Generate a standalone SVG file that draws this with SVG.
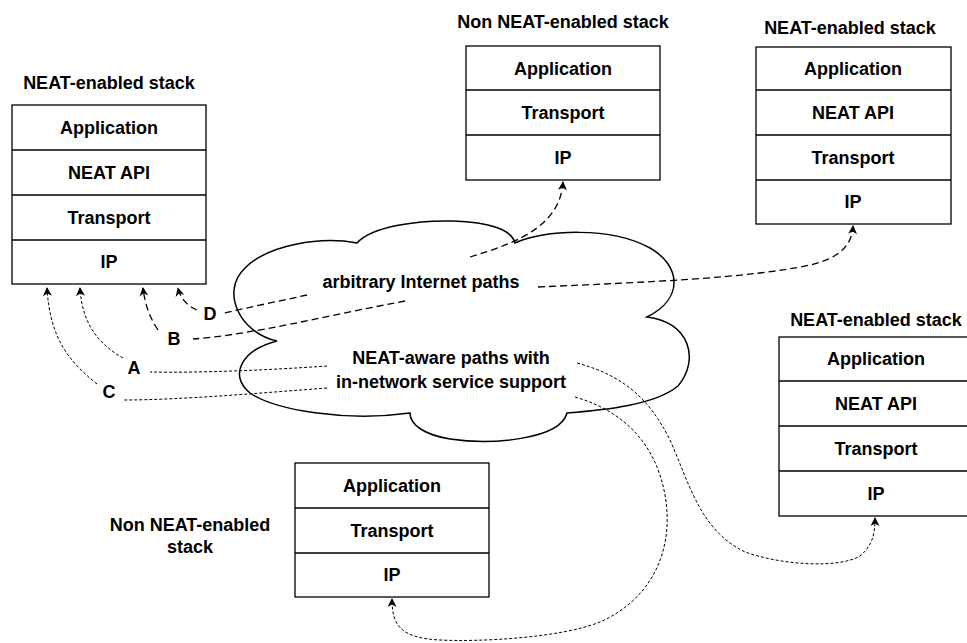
<svg xmlns="http://www.w3.org/2000/svg" width="967" height="643" viewBox="0 0 967 643">
<style>
  .t { font-family: "Liberation Sans", Arial, Helvetica, sans-serif; font-weight: bold; font-size: 18px; fill: #000; text-anchor: middle; }
  .box { fill: #fff; stroke: #000; stroke-width: 1.3; }
  .sep { stroke: #000; stroke-width: 1.3; }
  .cloud { fill: #fff; stroke: #000; stroke-width: 1.5; }
  .coarse { fill: none; stroke: #000; stroke-width: 1.3; stroke-dasharray: 7 4; }
  .fine { fill: none; stroke: #000; stroke-width: 1; stroke-dasharray: 3 2; }
</style>
<defs>
  <marker id="arr" viewBox="0 0 10 10" markerUnits="userSpaceOnUse" markerWidth="10" markerHeight="9" refX="9" refY="5" orient="auto">
    <path d="M0,0 L10,5 L0,10 L3,5 z" fill="#000"/>
  </marker>
</defs>

<g id="cloud">
  <path class="cloud" d="M 277,341 C 240,333 220,292 245,268 C 268,245 320,236 357,243 C 372,226 420,220 453,221 C 490,222 512,230 515,243 C 545,230 610,226 650,248 C 680,265 685,298 647,317 C 690,322 700,360 678,386 C 655,405 605,410 567,413 C 560,440 490,445 450,439 C 425,435 410,425 410,413 C 345,422 275,410 250,393 C 228,375 242,350 277,341 Z"/>
  <text class="t" x="421" y="288">arbitrary Internet paths</text>
  <text class="t" x="451" y="364">NEAT-aware paths with</text>
  <text class="t" x="451" y="388">in-network service support</text>
</g>

<g id="stack-left">
  <text class="t" x="109" y="89">NEAT-enabled stack</text>
  <rect class="box" x="12" y="105" width="194" height="179"/>
  <line class="sep" x1="12" y1="150" x2="206" y2="150"/>
  <line class="sep" x1="12" y1="195" x2="206" y2="195"/>
  <line class="sep" x1="12" y1="240" x2="206" y2="240"/>
  <text class="t" x="109" y="134">Application</text>
  <text class="t" x="109" y="179">NEAT API</text>
  <text class="t" x="109" y="224">Transport</text>
  <text class="t" x="109" y="268">IP</text>
</g>

<g id="stack-top-middle">
  <text class="t" x="563" y="28">Non NEAT-enabled stack</text>
  <rect class="box" x="466" y="46" width="194" height="134"/>
  <line class="sep" x1="466" y1="90" x2="660" y2="90"/>
  <line class="sep" x1="466" y1="135" x2="660" y2="135"/>
  <text class="t" x="563" y="75">Application</text>
  <text class="t" x="563" y="119">Transport</text>
  <text class="t" x="563" y="164">IP</text>
</g>

<g id="stack-top-right">
  <text class="t" x="850" y="34">NEAT-enabled stack</text>
  <rect class="box" x="756" y="47" width="195" height="177"/>
  <line class="sep" x1="756" y1="90" x2="951" y2="90"/>
  <line class="sep" x1="756" y1="135" x2="951" y2="135"/>
  <line class="sep" x1="756" y1="180" x2="951" y2="180"/>
  <text class="t" x="853" y="75">Application</text>
  <text class="t" x="853" y="119">NEAT API</text>
  <text class="t" x="853" y="164">Transport</text>
  <text class="t" x="853" y="208">IP</text>
</g>

<g id="stack-right">
  <text class="t" x="876" y="326">NEAT-enabled stack</text>
  <rect class="box" x="779" y="337" width="195" height="179"/>
  <line class="sep" x1="779" y1="381" x2="974" y2="381"/>
  <line class="sep" x1="779" y1="426" x2="974" y2="426"/>
  <line class="sep" x1="779" y1="471" x2="974" y2="471"/>
  <text class="t" x="876" y="365">Application</text>
  <text class="t" x="876" y="410">NEAT API</text>
  <text class="t" x="876" y="455">Transport</text>
  <text class="t" x="876" y="500">IP</text>
</g>

<g id="stack-bottom">
  <text class="t" x="190" y="531">Non NEAT-enabled</text>
  <text class="t" x="190" y="553">stack</text>
  <rect class="box" x="295" y="463" width="194" height="134"/>
  <line class="sep" x1="295" y1="508" x2="489" y2="508"/>
  <line class="sep" x1="295" y1="553" x2="489" y2="553"/>
  <text class="t" x="392" y="492">Application</text>
  <text class="t" x="392" y="537">Transport</text>
  <text class="t" x="392" y="581">IP</text>
</g>

<g id="connectors">
  <!-- D -->
  <path class="coarse" d="M 307,295 C 280,301 250,307 224,313"/>
  <path class="coarse" d="M 197,310 C 188,306 181,300 178,288" marker-end="url(#arr)"/>
  <text class="t" x="210" y="320">D</text>
  <!-- B -->
  <path class="coarse" d="M 405,301 C 330,315 250,335 193,339"/>
  <path class="coarse" d="M 158,330 C 150,318 145,305 143,288" marker-end="url(#arr)"/>
  <text class="t" x="174" y="345">B</text>
  <!-- A -->
  <path class="fine" d="M 327,366 C 270,370 200,373 150,372"/>
  <path class="fine" d="M 123,358 C 100,345 82,325 80,288" marker-end="url(#arr)"/>
  <text class="t" x="134" y="374">A</text>
  <!-- C -->
  <path class="fine" d="M 327,388 C 260,393 180,400 123,400"/>
  <path class="fine" d="M 97,384 C 70,362 50,340 47,288" marker-end="url(#arr)"/>
  <text class="t" x="109" y="398">C</text>
  <!-- to top middle -->
  <path class="coarse" d="M 470,257 C 520,242 560,225 563,182" marker-end="url(#arr)"/>
  <!-- to top right -->
  <path class="coarse" d="M 538,287 C 650,282 750,278 810,265 C 840,258 852,245 853,226" marker-end="url(#arr)"/>
  <!-- to right stack -->
  <path class="fine" d="M 577,363 C 625,376 650,400 670,440 C 690,485 700,530 745,552 C 785,566 840,568 860,556 C 872,546 875,535 875,518" marker-end="url(#arr)"/>
  <!-- to bottom stack -->
  <path class="fine" d="M 575,397 C 620,410 655,440 665,495 C 675,552 650,600 600,622 C 560,638 480,642 440,640 C 400,638 392,625 392,599" marker-end="url(#arr)"/>
</g>
</svg>
